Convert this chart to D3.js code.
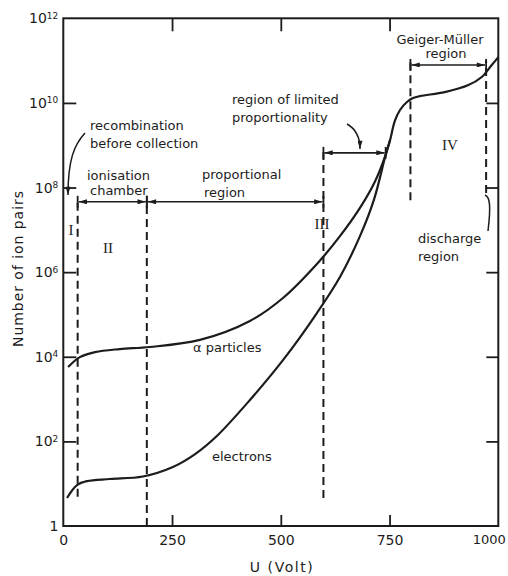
<!DOCTYPE html>
<html>
<head>
<meta charset="utf-8">
<script src="https://cdn.jsdelivr.net/npm/d3@7"></script>
<style>
  html, body { margin: 0; padding: 0; background: #fff; }
  svg text { font-family: "DejaVu Sans", sans-serif; fill: #1c1c1c; }
</style>
</head>
<body>
<svg id="chart" width="508" height="576"></svg>
<script>
// Axis ticks
const voltTicks = [0, 250, 500, 750, 1000];
const ionTicks = [1, 1e2, 1e4, 1e6, 1e8, 1e10, 1e12];

// Number of ion pairs vs. counter voltage, alpha particles
const alphaVolts = [11, 38, 73, 130, 199, 314, 429, 505, 583, 636, 682, 716, 741, 751, 762, 774, 790, 804, 820, 877, 930, 962, 985, 1000];
const alphaPairs = [5.7e3, 9.8e3, 1.29e4, 1.52e4, 1.7e4, 2.5e4, 7.0e4, 2.45e5, 1.56e6, 7.1e6, 3.3e7, 1.35e8, 5.9e8, 1.3e9, 3.7e9, 6.8e9, 1.05e10, 1.3e10, 1.45e10, 1.8e10, 2.6e10, 4.1e10, 7.9e10, 1.2e11];

// Number of ion pairs vs. counter voltage, electrons (joins the alpha curve near 741 V)
const electronVolts = [8.5, 31.5, 54.5, 107, 183, 252, 303, 353, 429, 505, 583, 636, 682, 714, 741, 751];
const electronPairs = [4.6, 9.3, 11.5, 12.9, 14.8, 24.8, 50, 134, 950, 8.3e3, 1.08e5, 7.7e5, 7.1e6, 5.1e7, 5.9e8, 1.3e9];

// Voltage boundaries between the operating regions, and their numerals
const regionBounds = [33, 192, 598, 798, 972];
const regionNumerals = ["I", "II", "III", "IV"];

const ink = "#1c1c1c";
const svg = d3.select("#chart");

const x = d3.scaleLinear().domain([0, 1000]).range([63.3, 498.3]);
const y = d3.scaleLog().domain([1, 1e12]).range([526, 18.3]);

// arrowhead marker
svg.append("defs").append("marker")
  .attr("id", "head")
  .attr("viewBox", "0 0 10 6")
  .attr("refX", 10).attr("refY", 3)
  .attr("markerWidth", 10).attr("markerHeight", 5)
  .attr("markerUnits", "userSpaceOnUse")
  .attr("orient", "auto-start-reverse")
  .append("path").attr("d", "M0,0L10,3L0,6Z").attr("fill", ink);

// ---- axes ----
const styleAxis = g => {
  g.select(".domain").remove();
  g.selectAll(".tick line").attr("stroke", ink).attr("stroke-width", 1.8);
  g.selectAll(".tick text").attr("fill", ink).attr("font-family", "DejaVu Sans, sans-serif");
};

svg.append("g")
  .attr("transform", `translate(0,${y(1)})`)
  .call(d3.axisBottom(x).tickValues(voltTicks).tickSizeInner(-11).tickSizeOuter(0).tickPadding(9).tickFormat(d3.format("d")))
  .call(styleAxis)
  .call(g => g.selectAll(".tick text").attr("font-size", 14))
  // the last label would run past the right edge: pull it inside
  .call(g => g.selectAll(".tick").filter(d => d === 1000).select("text")
    .attr("font-size", 13).attr("text-anchor", "end").attr("dx", 7))
  .call(g => g.selectAll(".tick").filter(d => d === 0 || d === 1000).select("line").remove());

svg.append("g")
  .attr("transform", `translate(0,${y(1e12)})`)
  .call(d3.axisBottom(x).tickValues(voltTicks.slice(1, -1)).tickSizeInner(13).tickSizeOuter(0).tickFormat(""))
  .call(styleAxis);

const gy = svg.append("g")
  .attr("transform", `translate(${x(0)},0)`)
  .call(d3.axisLeft(y).tickValues(ionTicks).tickSizeInner(-13).tickSizeOuter(0).tickPadding(5).tickFormat(""))
  .call(styleAxis);
gy.selectAll(".tick").filter(d => d === 1 || d === 1e12).select("line").remove();
gy.selectAll(".tick text").each(function (d) {
  const t = d3.select(this).attr("font-size", 14);
  if (d === 1) { t.text("1"); return; }
  t.append("tspan").text("10");
  t.append("tspan").attr("dy", "-0.5em").attr("font-size", 9).text(Math.round(Math.log10(d)));
});

svg.append("g")
  .attr("transform", `translate(${x(1000)},0)`)
  .call(d3.axisLeft(y).tickValues(ionTicks.slice(1, -1)).tickSizeInner(12).tickSizeOuter(0).tickFormat(""))
  .call(styleAxis);

// frame
svg.append("rect")
  .attr("x", x(0)).attr("y", y(1e12))
  .attr("width", x(1000) - x(0)).attr("height", y(1) - y(1e12))
  .attr("fill", "none").attr("stroke", ink).attr("stroke-width", 2);

// axis titles
svg.append("text")
  .attr("x", (x(0) + x(1000)) / 2 + 0.5).attr("y", 572)
  .attr("text-anchor", "middle").attr("font-size", 14)
  .attr("textLength", 63).attr("lengthAdjust", "spacing")
  .text("U (Volt)");

svg.append("text")
  .attr("transform", "translate(23,269) rotate(-90)")
  .attr("text-anchor", "middle").attr("font-size", 14)
  .attr("textLength", 156).attr("lengthAdjust", "spacing")
  .text("Number of ion pairs");

// ---- region boundaries (dashed) ----
const boundSpans = [
  [4.9, 5e7], [1, 5e7], [4.6, 9.1e8], [5e7, 1e11], [7.4e7, 1e11]
];
svg.append("g").selectAll("line")
  .data(regionBounds)
  .join("line")
  .attr("x1", d => x(d)).attr("x2", d => x(d))
  .attr("y1", (d, i) => y(boundSpans[i][0]))
  .attr("y2", (d, i) => y(boundSpans[i][1]))
  .attr("stroke", ink).attr("stroke-width", 2)
  .attr("stroke-dasharray", "8,5");

// ---- curves ----
const line = d3.line()
  .x(d => x(d[0]))
  .y(d => y(d[1]))
  .curve(d3.curveCatmullRom.alpha(0.5));

svg.append("path")
  .datum(d3.zip(alphaVolts, alphaPairs))
  .attr("d", line)
  .attr("fill", "none").attr("stroke", ink).attr("stroke-width", 2.2);

svg.append("path")
  .datum(d3.zip(electronVolts, electronPairs))
  .attr("d", line)
  .attr("fill", "none").attr("stroke", ink).attr("stroke-width", 2.2);

// ---- range arrows ----
const spans = [
  { from: regionBounds[0], to: regionBounds[1], level: 4.6e7 },
  { from: regionBounds[1], to: regionBounds[2], level: 4.6e7 },
  { from: regionBounds[2], to: 741, level: 6.6e8 },
  { from: regionBounds[3], to: regionBounds[4], level: 7.9e10 }
];
const ga = svg.append("g");
spans.forEach(s => {
  const yy = y(s.level);
  ga.append("line")
    .attr("x1", x(s.from) + 1).attr("x2", x(s.to) - 1)
    .attr("y1", yy).attr("y2", yy)
    .attr("stroke", ink).attr("stroke-width", 1.6)
    .attr("marker-start", "url(#head)").attr("marker-end", "url(#head)");
  [s.from, s.to].forEach(v => {
    ga.append("line")
      .attr("x1", x(v)).attr("x2", x(v))
      .attr("y1", yy - 6).attr("y2", yy + 6)
      .attr("stroke", ink).attr("stroke-width", 1.8);
  });
});

// leader lines
const leaders = [
  { d: "M85,133 C74,145 68,160 68,195", head: true },
  { d: "M347,124 C356,129 360,138 360,149", head: true },
  { d: "M485,195 C490,197 491,206 488,231", head: false }
];
leaders.forEach(l => {
  const p = svg.append("path").attr("d", l.d)
    .attr("fill", "none").attr("stroke", ink).attr("stroke-width", 1.5);
  if (l.head) p.attr("marker-end", "url(#head)");
});

// ---- annotation text ----
const notes = [
  { t: "recombination", x: 90, y: 130 },
  { t: "before collection", x: 90, y: 148 },
  { t: "ionisation", x: 87, y: 180 },
  { t: "chamber", x: 90, y: 195 },
  { t: "proportional", x: 202, y: 179 },
  { t: "region", x: 204, y: 197 },
  { t: "region of limited", x: 232, y: 104 },
  { t: "proportionality", x: 232, y: 122 },
  { t: "Geiger-Müller", x: 440, y: 44, a: "middle" },
  { t: "region", x: 446, y: 58, a: "middle" },
  { t: "discharge", x: 418, y: 243 },
  { t: "region", x: 418, y: 261 },
  { t: "α particles", x: 193, y: 352 },
  { t: "electrons", x: 212, y: 461 }
];
svg.append("g").selectAll("text")
  .data(notes)
  .join("text")
  .attr("x", d => d.x).attr("y", d => d.y)
  .attr("text-anchor", d => d.a || "start")
  .attr("font-size", 13)
  .text(d => d.t);

const numeralPos = [[71, 235], [108, 253], [322, 229], [450, 150]];
svg.append("g").selectAll("text")
  .data(regionNumerals)
  .join("text")
  .attr("x", (d, i) => numeralPos[i][0]).attr("y", (d, i) => numeralPos[i][1])
  .attr("text-anchor", "middle")
  .style("font-family", "'Liberation Serif', serif")
  .attr("font-size", 15)
  .text(d => d);
</script>
</body>
</html>
